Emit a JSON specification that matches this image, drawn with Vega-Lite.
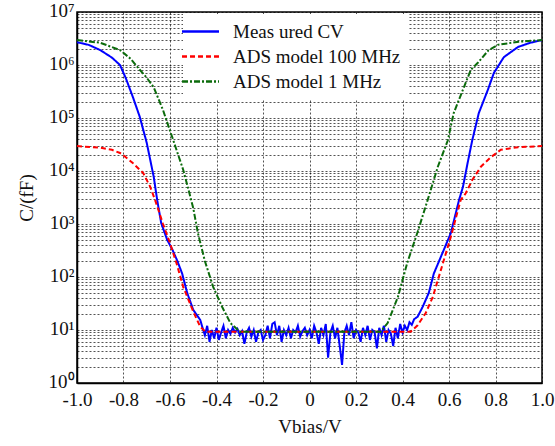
{
  "$schema": "https://vega.github.io/schema/vega-lite/v6.json",
  "width": 465,
  "height": 371,
  "autosize": {"type": "none"},
  "padding": {"left": 77, "top": 12, "right": 13, "bottom": 63},
  "background": "white",
  "config": {
    "font": "Liberation Serif",
    "view": {"stroke": "#000", "strokeWidth": 1.5}
  },
  "data": {"values": [
    {"s":"Meas ured CV","v":-1.0,"c":2690000},
    {"s":"Meas ured CV","v":-0.95,"c":2400000},
    {"s":"Meas ured CV","v":-0.90,"c":1910000},
    {"s":"Meas ured CV","v":-0.85,"c":1380000},
    {"s":"Meas ured CV","v":-0.815,"c":1000000},
    {"s":"Meas ured CV","v":-0.79,"c":562000},
    {"s":"Meas ured CV","v":-0.76,"c":251000},
    {"s":"Meas ured CV","v":-0.73,"c":105000},
    {"s":"Meas ured CV","v":-0.70,"c":33900},
    {"s":"Meas ured CV","v":-0.67,"c":7760},
    {"s":"Meas ured CV","v":-0.655,"c":2818},
    {"s":"Meas ured CV","v":-0.638,"c":1047},
    {"s":"Meas ured CV","v":-0.612,"c":501},
    {"s":"Meas ured CV","v":-0.59,"c":330},
    {"s":"Meas ured CV","v":-0.57,"c":209},
    {"s":"Meas ured CV","v":-0.548,"c":117},
    {"s":"Meas ured CV","v":-0.526,"c":50},
    {"s":"Meas ured CV","v":-0.50,"c":24},
    {"s":"Meas ured CV","v":-0.47,"c":15.5},
    {"s":"Meas ured CV","v":-0.46,"c":11},
    {"s":"Meas ured CV","v":-0.45,"c":8},
    {"s":"Meas ured CV","v":-0.44,"c":12},
    {"s":"Meas ured CV","v":-0.43,"c":6},
    {"s":"Meas ured CV","v":-0.42,"c":10},
    {"s":"Meas ured CV","v":-0.41,"c":7},
    {"s":"Meas ured CV","v":-0.40,"c":11},
    {"s":"Meas ured CV","v":-0.39,"c":6.5},
    {"s":"Meas ured CV","v":-0.38,"c":9},
    {"s":"Meas ured CV","v":-0.37,"c":12},
    {"s":"Meas ured CV","v":-0.36,"c":7},
    {"s":"Meas ured CV","v":-0.35,"c":10},
    {"s":"Meas ured CV","v":-0.34,"c":8.5},
    {"s":"Meas ured CV","v":-0.33,"c":11},
    {"s":"Meas ured CV","v":-0.32,"c":9},
    {"s":"Meas ured CV","v":-0.31,"c":10.5},
    {"s":"Meas ured CV","v":-0.30,"c":8},
    {"s":"Meas ured CV","v":-0.29,"c":9.5},
    {"s":"Meas ured CV","v":-0.28,"c":5.5},
    {"s":"Meas ured CV","v":-0.27,"c":9},
    {"s":"Meas ured CV","v":-0.26,"c":11},
    {"s":"Meas ured CV","v":-0.25,"c":7.5},
    {"s":"Meas ured CV","v":-0.24,"c":10},
    {"s":"Meas ured CV","v":-0.23,"c":6},
    {"s":"Meas ured CV","v":-0.22,"c":9},
    {"s":"Meas ured CV","v":-0.21,"c":10},
    {"s":"Meas ured CV","v":-0.20,"c":6.5},
    {"s":"Meas ured CV","v":-0.19,"c":8},
    {"s":"Meas ured CV","v":-0.18,"c":12},
    {"s":"Meas ured CV","v":-0.17,"c":7},
    {"s":"Meas ured CV","v":-0.16,"c":13},
    {"s":"Meas ured CV","v":-0.15,"c":14},
    {"s":"Meas ured CV","v":-0.14,"c":8},
    {"s":"Meas ured CV","v":-0.13,"c":12},
    {"s":"Meas ured CV","v":-0.12,"c":6},
    {"s":"Meas ured CV","v":-0.11,"c":10},
    {"s":"Meas ured CV","v":-0.10,"c":8},
    {"s":"Meas ured CV","v":-0.09,"c":11},
    {"s":"Meas ured CV","v":-0.08,"c":7},
    {"s":"Meas ured CV","v":-0.07,"c":10},
    {"s":"Meas ured CV","v":-0.06,"c":9},
    {"s":"Meas ured CV","v":-0.05,"c":12},
    {"s":"Meas ured CV","v":-0.04,"c":7.5},
    {"s":"Meas ured CV","v":-0.03,"c":9.5},
    {"s":"Meas ured CV","v":-0.02,"c":11},
    {"s":"Meas ured CV","v":-0.01,"c":8},
    {"s":"Meas ured CV","v":0.0,"c":10},
    {"s":"Meas ured CV","v":0.01,"c":7},
    {"s":"Meas ured CV","v":0.02,"c":12},
    {"s":"Meas ured CV","v":0.03,"c":9},
    {"s":"Meas ured CV","v":0.04,"c":5.5},
    {"s":"Meas ured CV","v":0.05,"c":11},
    {"s":"Meas ured CV","v":0.06,"c":8},
    {"s":"Meas ured CV","v":0.07,"c":13},
    {"s":"Meas ured CV","v":0.08,"c":3},
    {"s":"Meas ured CV","v":0.09,"c":9},
    {"s":"Meas ured CV","v":0.10,"c":12},
    {"s":"Meas ured CV","v":0.11,"c":7},
    {"s":"Meas ured CV","v":0.12,"c":11},
    {"s":"Meas ured CV","v":0.13,"c":5},
    {"s":"Meas ured CV","v":0.14,"c":2.2},
    {"s":"Meas ured CV","v":0.15,"c":9},
    {"s":"Meas ured CV","v":0.16,"c":12},
    {"s":"Meas ured CV","v":0.17,"c":8},
    {"s":"Meas ured CV","v":0.18,"c":14},
    {"s":"Meas ured CV","v":0.19,"c":7},
    {"s":"Meas ured CV","v":0.20,"c":10},
    {"s":"Meas ured CV","v":0.21,"c":9},
    {"s":"Meas ured CV","v":0.22,"c":6},
    {"s":"Meas ured CV","v":0.23,"c":11},
    {"s":"Meas ured CV","v":0.24,"c":8},
    {"s":"Meas ured CV","v":0.25,"c":12},
    {"s":"Meas ured CV","v":0.26,"c":6.5},
    {"s":"Meas ured CV","v":0.27,"c":10},
    {"s":"Meas ured CV","v":0.28,"c":9},
    {"s":"Meas ured CV","v":0.29,"c":4.5},
    {"s":"Meas ured CV","v":0.30,"c":11},
    {"s":"Meas ured CV","v":0.31,"c":8},
    {"s":"Meas ured CV","v":0.32,"c":12},
    {"s":"Meas ured CV","v":0.33,"c":6},
    {"s":"Meas ured CV","v":0.34,"c":10},
    {"s":"Meas ured CV","v":0.35,"c":8.5},
    {"s":"Meas ured CV","v":0.36,"c":5},
    {"s":"Meas ured CV","v":0.37,"c":11},
    {"s":"Meas ured CV","v":0.38,"c":7},
    {"s":"Meas ured CV","v":0.39,"c":13},
    {"s":"Meas ured CV","v":0.40,"c":9},
    {"s":"Meas ured CV","v":0.41,"c":12},
    {"s":"Meas ured CV","v":0.42,"c":10},
    {"s":"Meas ured CV","v":0.43,"c":14},
    {"s":"Meas ured CV","v":0.44,"c":12.5},
    {"s":"Meas ured CV","v":0.45,"c":16},
    {"s":"Meas ured CV","v":0.465,"c":17.8},
    {"s":"Meas ured CV","v":0.487,"c":27.5},
    {"s":"Meas ured CV","v":0.513,"c":50},
    {"s":"Meas ured CV","v":0.535,"c":117},
    {"s":"Meas ured CV","v":0.565,"c":240},
    {"s":"Meas ured CV","v":0.608,"c":676},
    {"s":"Meas ured CV","v":0.643,"c":2818},
    {"s":"Meas ured CV","v":0.66,"c":5012},
    {"s":"Meas ured CV","v":0.68,"c":14125},
    {"s":"Meas ured CV","v":0.70,"c":38019},
    {"s":"Meas ured CV","v":0.728,"c":123027},
    {"s":"Meas ured CV","v":0.767,"c":338844},
    {"s":"Meas ured CV","v":0.793,"c":707946},
    {"s":"Meas ured CV","v":0.836,"c":1410000},
    {"s":"Meas ured CV","v":0.897,"c":2190000},
    {"s":"Meas ured CV","v":0.95,"c":2630000},
    {"s":"Meas ured CV","v":1.0,"c":2950000},

    {"s":"ADS model 100 MHz","v":-1.0,"c":29512},
    {"s":"ADS model 100 MHz","v":-0.9,"c":27542},
    {"s":"ADS model 100 MHz","v":-0.85,"c":25119},
    {"s":"ADS model 100 MHz","v":-0.815,"c":21878},
    {"s":"ADS model 100 MHz","v":-0.79,"c":18197},
    {"s":"ADS model 100 MHz","v":-0.76,"c":14125},
    {"s":"ADS model 100 MHz","v":-0.715,"c":9120},
    {"s":"ADS model 100 MHz","v":-0.685,"c":5012},
    {"s":"ADS model 100 MHz","v":-0.664,"c":2818},
    {"s":"ADS model 100 MHz","v":-0.63,"c":1000},
    {"s":"ADS model 100 MHz","v":-0.6,"c":437},
    {"s":"ADS model 100 MHz","v":-0.57,"c":170},
    {"s":"ADS model 100 MHz","v":-0.543,"c":64.6},
    {"s":"ADS model 100 MHz","v":-0.5,"c":22.4},
    {"s":"ADS model 100 MHz","v":-0.47,"c":11.5},
    {"s":"ADS model 100 MHz","v":-0.448,"c":9.3},
    {"s":"ADS model 100 MHz","v":0.0,"c":9.3},
    {"s":"ADS model 100 MHz","v":0.435,"c":9.3},
    {"s":"ADS model 100 MHz","v":0.465,"c":12.3},
    {"s":"ADS model 100 MHz","v":0.5,"c":20.9},
    {"s":"ADS model 100 MHz","v":0.53,"c":41.7},
    {"s":"ADS model 100 MHz","v":0.565,"c":135},
    {"s":"ADS model 100 MHz","v":0.608,"c":575},
    {"s":"ADS model 100 MHz","v":0.65,"c":2818},
    {"s":"ADS model 100 MHz","v":0.672,"c":3802},
    {"s":"ADS model 100 MHz","v":0.7,"c":6761},
    {"s":"ADS model 100 MHz","v":0.737,"c":12023},
    {"s":"ADS model 100 MHz","v":0.78,"c":18197},
    {"s":"ADS model 100 MHz","v":0.823,"c":25119},
    {"s":"ADS model 100 MHz","v":0.897,"c":28184},
    {"s":"ADS model 100 MHz","v":1.0,"c":29512},

    {"s":"ADS model 1 MHz","v":-1.0,"c":2950000},
    {"s":"ADS model 1 MHz","v":-0.9,"c":2630000},
    {"s":"ADS model 1 MHz","v":-0.815,"c":1910000},
    {"s":"ADS model 1 MHz","v":-0.77,"c":1320000},
    {"s":"ADS model 1 MHz","v":-0.73,"c":813000},
    {"s":"ADS model 1 MHz","v":-0.70,"c":575000},
    {"s":"ADS model 1 MHz","v":-0.67,"c":380000},
    {"s":"ADS model 1 MHz","v":-0.63,"c":141000},
    {"s":"ADS model 1 MHz","v":-0.586,"c":38019},
    {"s":"ADS model 1 MHz","v":-0.543,"c":10471},
    {"s":"ADS model 1 MHz","v":-0.52,"c":4365},
    {"s":"ADS model 1 MHz","v":-0.5,"c":1995},
    {"s":"ADS model 1 MHz","v":-0.48,"c":676},
    {"s":"ADS model 1 MHz","v":-0.45,"c":200},
    {"s":"ADS model 1 MHz","v":-0.414,"c":64.6},
    {"s":"ADS model 1 MHz","v":-0.375,"c":26.9},
    {"s":"ADS model 1 MHz","v":-0.34,"c":13.5},
    {"s":"ADS model 1 MHz","v":-0.3,"c":9.3},
    {"s":"ADS model 1 MHz","v":0.0,"c":9.3},
    {"s":"ADS model 1 MHz","v":0.306,"c":9.3},
    {"s":"ADS model 1 MHz","v":0.336,"c":13.5},
    {"s":"ADS model 1 MHz","v":0.38,"c":41.7},
    {"s":"ADS model 1 MHz","v":0.42,"c":182},
    {"s":"ADS model 1 MHz","v":0.465,"c":708},
    {"s":"ADS model 1 MHz","v":0.508,"c":2818},
    {"s":"ADS model 1 MHz","v":0.552,"c":12023},
    {"s":"ADS model 1 MHz","v":0.595,"c":38019},
    {"s":"ADS model 1 MHz","v":0.62,"c":123027},
    {"s":"ADS model 1 MHz","v":0.664,"c":380189},
    {"s":"ADS model 1 MHz","v":0.694,"c":812831},
    {"s":"ADS model 1 MHz","v":0.724,"c":1100000},
    {"s":"ADS model 1 MHz","v":0.77,"c":1900000},
    {"s":"ADS model 1 MHz","v":0.81,"c":2400000},
    {"s":"ADS model 1 MHz","v":0.9,"c":2750000},
    {"s":"ADS model 1 MHz","v":1.0,"c":2950000}
  ]},
  "mark": {"type": "line", "strokeWidth": 2, "clip": true},
  "encoding": {
    "x": {
      "field": "v", "type": "quantitative",
      "scale": {"domain": [-1, 1], "nice": false, "zero": false},
      "axis": {
        "title": "Vbias/V",
        "values": [-1, -0.8, -0.6, -0.4, -0.2, 0, 0.2, 0.4, 0.6, 0.8, 1],
        "labelExpr": "datum.value == 0 ? '0' : replace(format(datum.value, '.1f'), '\u2212', '-')",
        "labelFont": "Liberation Serif", "titleFont": "Liberation Serif",
        "labelColor": "#111", "titleColor": "#111", "titleFontWeight": "normal",
        "labelFontSize": 19, "titleFontSize": 19,
        "labelPadding": 7, "titlePadding": 8,
        "labelFlush": false,
        "ticks": false,
        "domainColor": "#000", "domainWidth": 1.5,
        "grid": true, "gridColor": "#000", "gridDash": [2, 2], "gridWidth": 0.8, "gridOpacity": 0.85,
        "labelOverlap": false
      }
    },
    "y": {
      "field": "c", "type": "quantitative",
      "scale": {"type": "log", "domain": [1, 10000000], "nice": false},
      "axis": {
        "title": "C/(fF)",
        "values": [1,2,3,4,5,6,7,8,9,10,20,30,40,50,60,70,80,90,100,200,300,400,500,600,700,800,900,1000,2000,3000,4000,5000,6000,7000,8000,9000,10000,20000,30000,40000,50000,60000,70000,80000,90000,100000,200000,300000,400000,500000,600000,700000,800000,900000,1000000,2000000,3000000,4000000,5000000,6000000,7000000,8000000,9000000,10000000],
        "labelExpr": "abs(log(datum.value)/LN10 - round(log(datum.value)/LN10)) < 0.000001 ? '10' + substring('\u2070\u00b9\u00b2\u00b3\u2074\u2075\u2076\u2077', round(log(datum.value)/LN10), round(log(datum.value)/LN10) + 1) : ''",
        "labelFont": "Liberation Serif", "titleFont": "Liberation Serif",
        "labelColor": "#111", "titleColor": "#111", "titleFontWeight": "normal",
        "labelFontSize": 19, "titleFontSize": 19,
        "labelPadding": 3, "titlePadding": 12,
        "labelOffset": -2,
        "labelFlush": false,
        "ticks": false,
        "domainColor": "#000", "domainWidth": 1.5,
        "grid": true, "gridColor": "#000", "gridDash": [2, 2], "gridWidth": 0.8, "gridOpacity": 0.85,
        "labelOverlap": false
      }
    },
    "color": {
      "field": "s", "type": "nominal",
      "scale": {"domain": ["Meas ured CV", "ADS model 100 MHz", "ADS model 1 MHz"], "range": ["#0000ff", "#ff0000", "#0b6b0b"]},
      "legend": {
        "title": null, "orient": "none", "legendX": 106, "legendY": 2,
        "fillColor": "white", "padding": 7,
        "symbolType": "M-2,0H2", "symbolSize": 342, "symbolStrokeWidth": 2.5,
        "labelFont": "Liberation Serif", "labelFontSize": 19, "labelColor": "#111",
        "labelOffset": 22, "rowPadding": 4, "labelLimit": 300
      }
    },
    "strokeDash": {
      "field": "s", "type": "nominal",
      "scale": {"domain": ["Meas ured CV", "ADS model 100 MHz", "ADS model 1 MHz"], "range": [[1, 0], [5, 3], [6, 2, 2, 2]]},
      "legend": {
        "title": null, "orient": "none", "legendX": 106, "legendY": 2,
        "fillColor": "white", "padding": 7,
        "symbolType": "M-2,0H2", "symbolSize": 342, "symbolStrokeWidth": 2.5,
        "labelFont": "Liberation Serif", "labelFontSize": 19, "labelColor": "#111",
        "labelOffset": 22, "rowPadding": 4, "labelLimit": 300
      }
    }
  }
}
